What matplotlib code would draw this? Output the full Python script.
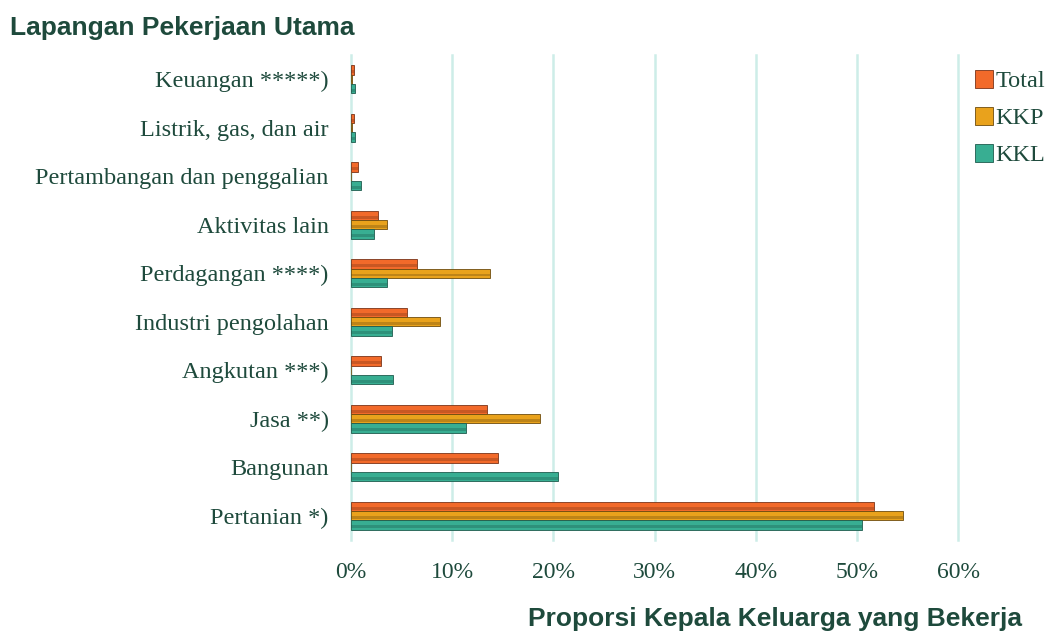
import matplotlib.pyplot as plt
import numpy as np

# data (proporsi, bawah -> atas)
kategori = ['Pertanian *)', 'Bangunan', 'Jasa **)', 'Angkutan ***)', 'Industri pengolahan',
            'Perdagangan ****)', 'Aktivitas lain', 'Pertambangan dan penggalian',
            'Listrik, gas, dan air', 'Keuangan *****)']
total = [0.517, 0.145, 0.134, 0.030, 0.055, 0.065, 0.027, 0.007, 0.003, 0.003]
kkp = [0.546, 0.0, 0.187, 0.0, 0.088, 0.137, 0.036, 0.0, 0.001, 0.001]
kkl = [0.505, 0.205, 0.114, 0.042, 0.041, 0.036, 0.023, 0.010, 0.004, 0.004]
seri = ['Total', 'KKP', 'KKL']
warna = ['#F26A2A', '#E9A21C', '#38AE92']
tepi = ['#7A3418', '#6E4C0E', '#1E5C4E']

teks_hijau = '#1E4A3C'

fig = plt.figure(figsize=(10.51, 6.33), dpi=100)
ax = fig.add_axes([351 / 1051, 1 - 540 / 633, (958 - 351) / 1051, (540 - 55) / 633])

y = np.arange(len(kategori))
h = 0.19
for i, (nilai, c, e) in enumerate(zip([total, kkp, kkl], warna, tepi)):
    pos = y + (1 - i) * h
    ax.barh(pos, nilai, height=h, color=c, edgecolor=e, linewidth=0.6,
            label=seri[i], zorder=3)
    # efek bevel: bagian bawah lebih gelap
    ax.barh(pos - h * 0.18, nilai, height=h * 0.3, color=e, alpha=0.35,
            linewidth=0, zorder=4)

ax.set_xlim(0, 0.6)
ax.set_ylim(-0.5, len(kategori) - 0.5)
ax.set_xticks(np.arange(0, 0.61, 0.1))
ax.set_xticklabels([f'{int(round(t * 100))}%' for t in np.arange(0, 0.61, 0.1)])
ax.set_yticks(y)
ax.set_yticklabels(kategori)
ax.grid(axis='x', color='#CDEDE8', linewidth=1.8, zorder=0)
for g in ax.xaxis.get_gridlines():
    g.set_clip_on(False)
for s in ax.spines.values():
    s.set_visible(False)
ax.tick_params(length=0, labelsize=17.5, labelcolor=teks_hijau)
ax.tick_params(axis='y', pad=16)
ax.tick_params(axis='x', labelsize=17, pad=16)
for lbl in ax.get_xticklabels() + ax.get_yticklabels():
    lbl.set_family('Liberation Serif')

leg = ax.legend(loc='upper left', bbox_to_anchor=(975 / 1051, 1 - 70 / 633),
                bbox_transform=fig.transFigure, frameon=False, handlelength=0.75,
                handleheight=0.75, handletextpad=0.1, labelspacing=0.6,
                borderpad=0, borderaxespad=0,
                prop={'family': 'Liberation Serif', 'size': 17.5})
for t in leg.get_texts():
    t.set_color(teks_hijau)

fig.text(10 / 1051, 1 - 28 / 633, 'Lapangan Pekerjaan Utama', fontsize=19, fontweight='bold',
         family='Liberation Sans', color=teks_hijau, va='center', ha='left')
fig.text(1022 / 1051, 1 - 619 / 633, 'Proporsi Kepala Keluarga yang Bekerja', fontsize=19,
         fontweight='bold', family='Liberation Sans', color=teks_hijau, va='center', ha='right')

fig.savefig('out.png', dpi=100)
